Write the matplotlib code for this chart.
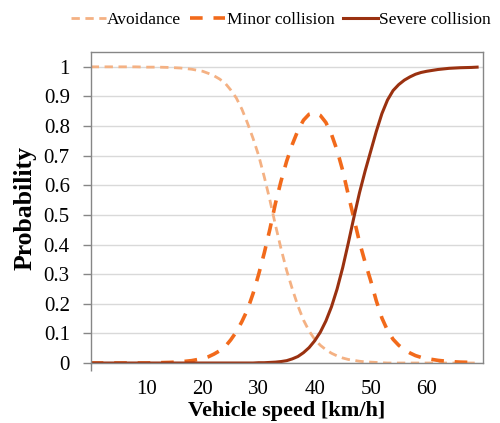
import numpy as np
import matplotlib
matplotlib.use("Agg")
import matplotlib.pyplot as plt
from matplotlib.ticker import FixedLocator, FuncFormatter

plt.rcParams['font.family'] = ['Liberation Serif', 'DejaVu Serif']

# speed values (km/h) and probabilities
speed = [0, 2, 4, 6, 8, 10, 12, 14, 16, 18,
         20, 21, 22, 23, 24, 25, 26, 27, 28, 29,
         30, 31, 32, 33, 34, 35, 36, 37, 38, 39,
         40, 41, 42, 43, 44, 45, 46, 47, 48, 49,
         50, 51, 52, 53, 54, 55, 56, 57, 58, 59,
         60, 62, 64, 66, 68, 69]
avoidance = [1.000, 1.000, 1.000, 1.000, 1.000, 0.999, 0.999, 0.998, 0.996, 0.992,
             0.985, 0.978, 0.970, 0.959, 0.945, 0.922, 0.895, 0.857, 0.810, 0.758,
             0.700, 0.628, 0.550, 0.465, 0.385, 0.312, 0.250, 0.193, 0.145, 0.108,
             0.080, 0.060, 0.045, 0.033, 0.024, 0.017, 0.012, 0.009, 0.006, 0.004,
             0.003, 0.002, 0.001, 0.000, 0.000, 0.000, 0.000, 0.000, 0.000, 0.000,
             0.000, 0.000, 0.000, 0.000, 0.000, 0.000]
minor = [0.000, 0.000, 0.000, 0.000, 0.000, 0.000, 0.001, 0.002, 0.004, 0.008,
         0.015, 0.021, 0.030, 0.041, 0.055, 0.078, 0.105, 0.140, 0.180, 0.235,
         0.300, 0.372, 0.452, 0.540, 0.615, 0.682, 0.738, 0.785, 0.820, 0.840,
         0.845, 0.836, 0.812, 0.772, 0.718, 0.650, 0.568, 0.488, 0.408, 0.340,
         0.278, 0.210, 0.152, 0.110, 0.080, 0.060, 0.045, 0.034, 0.025, 0.019,
         0.015, 0.009, 0.005, 0.003, 0.002, 0.001]
severe = [0.000, 0.000, 0.000, 0.000, 0.000, 0.000, 0.000, 0.000, 0.000, 0.000,
          0.000, 0.000, 0.000, 0.000, 0.000, 0.000, 0.000, 0.000, 0.000, 0.000,
          0.001, 0.001, 0.002, 0.003, 0.005, 0.008, 0.014, 0.022, 0.035, 0.052,
          0.075, 0.104, 0.142, 0.190, 0.250, 0.322, 0.405, 0.492, 0.575, 0.648,
          0.715, 0.782, 0.842, 0.888, 0.920, 0.940, 0.955, 0.966, 0.975, 0.981,
          0.985, 0.991, 0.995, 0.997, 0.998, 0.999]

fig = plt.figure(figsize=(5, 4.23), dpi=100)
ax = fig.add_axes([0.1814, 0.1418, 0.784, 0.7352])

ax.plot(speed, avoidance, color='#F4B183', lw=2.0, dashes=(3, 2), label='Avoidance')
ax.plot(speed, minor, color='#F26A1B', lw=2.6, dashes=(3.5, 3), label='Minor collision')
ax.plot(speed, severe, color='#9A3110', lw=2.2, label='Severe collision')

ax.set_xlim(0, 70)
ax.set_ylim(0, 1.05)

ax.xaxis.set_major_locator(FixedLocator([10, 20, 30, 40, 50, 60]))
ax.xaxis.set_minor_locator(FixedLocator([0, 20, 40, 60]))
ax.tick_params(axis='x', which='major', length=0, pad=12, labelsize=15)
ax.tick_params(axis='x', which='minor', length=6, color='#868686', width=1)
ax.yaxis.set_major_locator(FixedLocator(np.arange(0, 11) / 10))
ax.yaxis.set_major_formatter(FuncFormatter(lambda v, p: ('%.1f' % v).rstrip('0').rstrip('.')))
ax.tick_params(axis='y', length=6, color='#868686', width=1, pad=9, labelsize=15)

ax.grid(axis='y', color='#D9D9D9', lw=1)
ax.set_axisbelow(True)
for s in ax.spines.values():
    s.set_color('#868686')
    s.set_linewidth(1)

ax.set_xlabel('Vehicle speed [km/h]', fontsize=16, fontweight='bold', labelpad=2)
ax.set_ylabel('Probability', fontsize=18.5, fontweight='bold', labelpad=5)

fig.legend(loc='center', bbox_to_anchor=(0.562, 0.952), ncol=3, frameon=False,
           fontsize=12.5, handlelength=2.0, handletextpad=0.1, columnspacing=0.5)

fig.savefig('out.png', dpi=100)
